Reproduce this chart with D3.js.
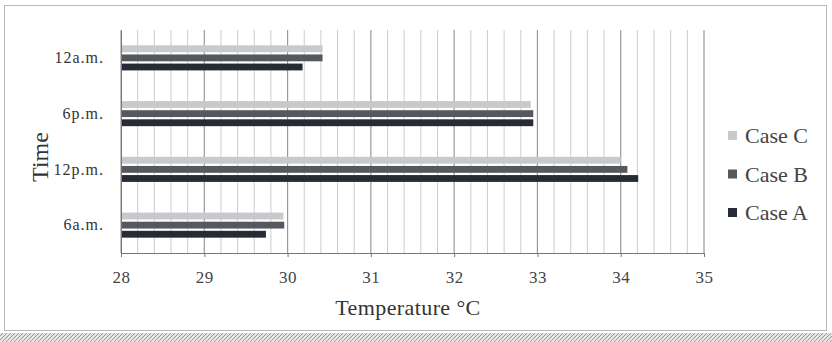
<!DOCTYPE html>
<html>
<head>
<meta charset="utf-8">
<script src="https://cdn.jsdelivr.net/npm/d3@7"></script>
<style>
  html, body { margin: 0; padding: 0; background: #fff; }
  svg { display: block; font-family: "Liberation Serif", "DejaVu Serif", serif; }
  svg text { font-family: "Liberation Serif", "DejaVu Serif", serif; }
</style>
</head>
<body>
<svg id="chart" width="832" height="342"></svg>
<script>
// Time of day categories, top to bottom
const times = ["12a.m.", "6p.m.", "12p.m.", "6a.m."];
// Series drawn within each category, top to bottom
const cases = ["Case C", "Case B", "Case A"];
// Temperature (°C) per time, same order as `times`
const caseC = [30.42, 32.92, 34.0, 29.95];
const caseB = [30.42, 32.95, 34.08, 29.96];
const caseA = [30.18, 32.95, 34.21, 29.74];
const xTicks = [28, 29, 30, 31, 32, 33, 34, 35];
const colors = { "Case C": "#c9c9cc", "Case B": "#55585f", "Case A": "#262b36" };

const values = { "Case C": caseC, "Case B": caseB, "Case A": caseA };
const serif = '"Liberation Serif", "DejaVu Serif", serif';
const svg = d3.select("#chart");

// outer frame
svg.append("rect").attr("x", 4.5).attr("y", 5.5).attr("width", 822).attr("height", 325)
  .attr("fill", "#fff").attr("stroke", "#b8b8b8").attr("stroke-width", 1);

// hatched strip along the bottom
const defs = svg.append("defs");
const pat = defs.append("pattern").attr("id", "hatch").attr("width", 4).attr("height", 4)
  .attr("patternUnits", "userSpaceOnUse");
pat.append("rect").attr("width", 4).attr("height", 4).attr("fill", "#e4e4e4");
pat.append("path").attr("d", "M0,4 L4,0").attr("stroke", "#9a9a9a").attr("stroke-width", 1);
svg.append("rect").attr("x", 0).attr("y", 333).attr("width", 832).attr("height", 9).attr("fill", "url(#hatch)");

const x = d3.scaleLinear().domain([28, 35]).range([121, 704]);
const y = d3.scaleBand().domain(times).range([30, 253]).paddingInner(0.55).paddingOuter(0.275);
const yInner = d3.scaleBand().domain(cases).range([0, y.bandwidth()]).paddingInner(0.25);

const plot = svg.append("g");

// minor grid every 0.2 °C
const minor = d3.range(28, 35.0001, 0.2).map(v => +v.toFixed(1)).filter(v => !xTicks.includes(v));
plot.selectAll("line.minor").data(minor).join("line")
  .attr("x1", d => x(d)).attr("x2", d => x(d)).attr("y1", 30).attr("y2", 253)
  .attr("stroke", "#cdcdcd").attr("stroke-width", 1);

// major grid at whole degrees
plot.selectAll("line.major").data(xTicks).join("line")
  .attr("x1", d => x(d)).attr("x2", d => x(d)).attr("y1", 30).attr("y2", 253)
  .attr("stroke", "#999").attr("stroke-width", 1.2);

// bars
cases.forEach(c => {
  plot.selectAll(null).data(times).join("rect")
    .attr("x", x(28))
    .attr("y", (t) => y(t) + yInner(c))
    .attr("width", (t, i) => x(values[c][i]) - x(28))
    .attr("height", yInner.bandwidth())
    .attr("fill", colors[c]);
});

// x axis
const xAxis = d3.axisBottom(x).tickValues(xTicks).tickSize(4).tickPadding(14).tickFormat(d3.format("d"));
const gx = svg.append("g").attr("transform", "translate(0,253)").call(xAxis)
  .attr("font-family", serif).attr("font-size", 17);
gx.select(".domain").attr("stroke", "#777");
gx.selectAll(".tick line").attr("stroke", "#777");
gx.selectAll(".tick text").style("font-family", serif).style("font-size", "17px")
  .style("letter-spacing", "0.5px").attr("fill", "#444");

// y axis
const yAxis = d3.axisLeft(y).tickSize(0).tickPadding(17);
const gy = svg.append("g").attr("transform", "translate(121,0)").call(yAxis)
  .attr("font-family", serif).attr("font-size", 16);
gy.select(".domain").attr("stroke", "#777");
gy.selectAll(".tick text").style("font-family", serif).style("font-size", "16px")
  .style("letter-spacing", "1px").attr("fill", "#333");

// axis titles
svg.append("text").attr("x", 408).attr("y", 315).attr("text-anchor", "middle")
  .style("font-size", "22px").style("letter-spacing", "0.4px").attr("fill", "#333").text("Temperature °C");
svg.append("text").attr("transform", "translate(48,157) rotate(-90)").attr("text-anchor", "middle")
  .style("font-size", "24px").attr("fill", "#333").text("Time");

// legend
const legend = svg.append("g").attr("transform", "translate(728,136)");
cases.forEach((c, i) => {
  const g = legend.append("g").attr("transform", `translate(0,${i * 38.5})`);
  g.append("rect").attr("x", 0).attr("y", -5).attr("width", 9).attr("height", 9).attr("fill", colors[c]);
  g.append("text").attr("x", 17).attr("y", 7).style("font-size", "22px").attr("fill", "#444").text(c);
});
</script>
</body>
</html>
